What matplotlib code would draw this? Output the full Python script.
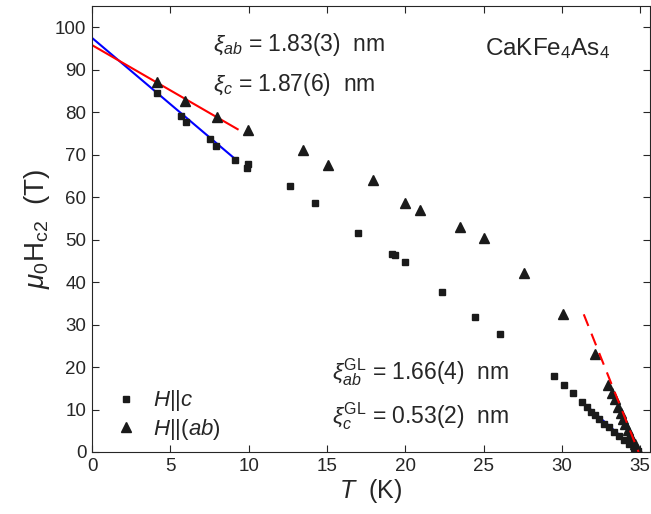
import numpy as np
import matplotlib
matplotlib.use("Agg")
import matplotlib.pyplot as plt
from matplotlib.lines import Line2D

plt.rcParams['font.family'] = ['Liberation Sans', 'DejaVu Sans']
plt.rcParams['mathtext.fontset'] = 'custom'
plt.rcParams['mathtext.rm'] = 'Liberation Sans'
plt.rcParams['mathtext.it'] = 'Liberation Sans:italic'
plt.rcParams['mathtext.bf'] = 'Liberation Sans:bold'

# Upper critical field, H || c (squares)
T_c = [4.15, 5.68, 6.0, 7.54, 7.9, 9.13, 9.96, 9.9, 12.64, 14.26, 16.97,
       19.16, 19.33, 19.96, 22.35, 24.46, 26.05, 29.48, 30.16, 30.72, 31.29,
       31.59, 31.86, 32.12, 32.4, 32.7, 33.0, 33.35, 33.67, 34.0, 34.3,
       34.63, 34.88]
H_c = [84.5, 79.1, 77.6, 73.6, 72.0, 68.7, 67.8, 66.9, 62.7, 58.7, 51.6,
       46.7, 46.4, 44.7, 37.7, 31.8, 27.8, 17.8, 15.8, 13.8, 11.8,
       10.5, 9.5, 8.7, 7.7, 6.7, 5.8, 4.8, 3.8, 2.8, 1.9, 0.9, 0.2]

# Upper critical field, H || (ab) (triangles)
T_ab = [4.15, 5.94, 7.98, 9.96, 13.45, 15.05, 17.94, 19.96, 20.96, 23.48,
        25.0, 27.59, 30.1, 32.12, 32.97, 33.2, 33.4, 33.6, 33.75, 33.9,
        34.05, 34.2, 34.35, 34.5, 34.65, 34.8, 34.9]
H_ab = [87.0, 82.6, 78.8, 75.8, 71.1, 67.6, 64.0, 58.7, 56.9, 52.9,
        50.3, 42.1, 32.6, 23.1, 15.8, 14.0, 12.4, 10.7, 9.2, 7.8,
        6.5, 5.2, 4.0, 2.9, 1.8, 0.8, 0.1]

# Linear fits: (slope, intercept) and temperature range
lowT_fit_c = ([-3.12, 97.5], [0.0, 9.3])
lowT_fit_ab = ([-2.13, 95.8], [0.0, 9.3])
Tc = 34.9
gl_slope_c = -3.27
gl_slope_ab = -9.26
gl_range_c = [31.3, Tc]
gl_range_ab = [31.4, Tc]

axis_col = '#262626'
mark_col = '#1a1a1a'

fig = plt.figure(figsize=(6.51, 5.14), dpi=100)
ax = fig.add_axes([92 / 651, 62 / 514, 558 / 651, 446 / 514])

# low-temperature linear fits
for (coef, rng), col in [(lowT_fit_c, 'blue'), (lowT_fit_ab, 'red')]:
    tt = np.linspace(rng[0], rng[1], 50)
    ax.plot(tt, np.polyval(coef, tt), color=col, lw=1.5, zorder=2)

# GL slopes near Tc
tt = np.linspace(gl_range_c[0], gl_range_c[1], 50)
ax.plot(tt, gl_slope_c * (tt - Tc), color='blue', lw=1.5, zorder=2)
tt = np.linspace(gl_range_ab[0], gl_range_ab[1], 50)
ax.plot(tt, gl_slope_ab * (tt - Tc), color='red', lw=1.5,
        dashes=(6, 4), zorder=4)

ax.plot(T_c, H_c, 's', ms=5, color=mark_col, mec=mark_col, zorder=3)
ax.plot(T_ab, H_ab, '^', ms=7, color=mark_col, mec=mark_col, zorder=3)

ax.set_xlim(0, 35.63)
ax.set_ylim(0, 105)
ax.set_xticks(np.arange(0, 36, 5))
ax.set_yticks(np.arange(0, 101, 10))
ax.tick_params(direction='in', length=5, width=0.8, colors=axis_col,
               labelsize=13.5, top=True, right=True, pad=4)
for sp in ax.spines.values():
    sp.set_color(axis_col)
    sp.set_linewidth(0.8)

ax.set_xlabel(r'$T$  (K)', fontsize=18, color=axis_col, labelpad=2)
ax.set_ylabel(r'$\mu_0\mathrm{H}_{\mathrm{c2}}$  (T)', fontsize=20,
              color=axis_col, labelpad=2)

txt = dict(fontsize=16.5, color=axis_col, va='center', ha='left')
ax.text(7.7, 95.9, r'$\xi_{ab}$ = 1.83(3)  nm', **txt)
ax.text(7.7, 86.6, r'$\xi_{c}$ = 1.87(6)  nm', **txt)
ax.text(25.1, 94.9, r'CaKFe$_4$As$_4$', fontsize=17.5, color=axis_col,
        va='center', ha='left')
ax.text(15.3, 18.9, r'$\xi_{ab}^{\mathrm{GL}}$ = 1.66(4)  nm', **txt)
ax.text(15.3, 8.4, r'$\xi_{c}^{\mathrm{GL}}$ = 0.53(2)  nm', **txt)

handles = [Line2D([], [], ls='none', marker='s', ms=5, color=mark_col),
           Line2D([], [], ls='none', marker='^', ms=7, color=mark_col)]
leg = ax.legend(handles, [r'$H||c$', r'$H||(ab)$'], loc='lower left',
                bbox_to_anchor=(0.01, -0.012), frameon=False, fontsize=16,
                handlelength=1.2, handletextpad=0.6, labelspacing=0.15,
                borderaxespad=0.3)
for t in leg.get_texts():
    t.set_color(axis_col)

fig.savefig('out.png', dpi=100)
